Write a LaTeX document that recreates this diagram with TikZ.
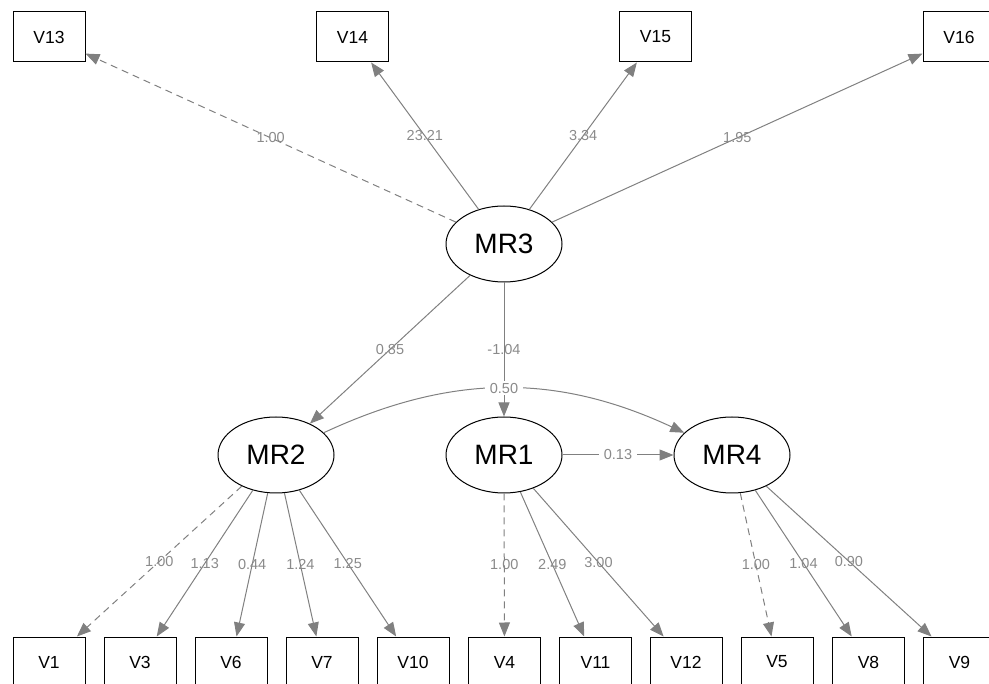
\documentclass[tikz,border=0pt]{standalone}
\usepackage{fontspec}
\setmainfont{Liberation Sans}
\usetikzlibrary{arrows.meta,shapes.geometric}
\definecolor{edgec}{HTML}{808080}
\definecolor{labc}{HTML}{8A8A8A}
\begin{document}
\begin{tikzpicture}[x=1pt,y=-1pt,
 obs/.style={draw=black,line width=1pt,minimum width=72pt,minimum height=50pt,inner sep=0pt,font=\fontsize{17.5}{17.5}\selectfont},
 lat/.style={ellipse,draw=black,line width=1pt,minimum width=116pt,minimum height=76pt,inner sep=0pt,font=\fontsize{28}{28}\selectfont},
 ed/.style={draw=edgec,line width=1pt,-{Triangle[length=14pt,width=11pt]}},
 fixd/.style={ed,dash pattern=on 7pt off 5pt},
 lbl/.style={text=labc,font=\fontsize{14.5}{14.5}\selectfont,inner sep=1pt},
 lblbg/.style={lbl,fill=white,inner xsep=5pt,inner ysep=2pt}]
\useasboundingbox (0,0) rectangle (989,684);
\clip (0,0) rectangle (989,684);
% observed top
\node[obs] (V13) at (49,37) {V13};
\node[obs] (V14) at (352.5,37) {V14};
\node[obs] (V15) at (655.5,37) {V15};
\node[obs] (V16) at (959,37) {V16};
% observed bottom
\node[obs] (V1) at (49,662) {V1};
\node[obs] (V3) at (140,662) {V3};
\node[obs] (V6) at (231,662) {V6};
\node[obs] (V7) at (322,662) {V7};
\node[obs] (V10) at (413,662) {V10};
\node[obs] (V4) at (504.5,662) {V4};
\node[obs] (V11) at (595.5,662) {V11};
\node[obs] (V12) at (686,662) {V12};
\node[obs] (V5) at (777,662) {V5};
\node[obs] (V8) at (868.5,662) {V8};
\node[obs] (V9) at (959.5,662) {V9};
% latent
\node[lat] (MR3) at (504,244) {MR3};
\node[lat] (MR2) at (276,455) {MR2};
\node[lat] (MR1) at (504,455) {MR1};
\node[lat] (MR4) at (732,455) {MR4};
% MR3 loadings
\draw[fixd] (MR3) -- node[lbl]{1.00} (V13);
\draw[ed] (MR3) -- node[lbl]{23.21} (V14);
\draw[ed] (MR3) -- node[lbl]{3.34} (V15);
\draw[ed] (MR3) -- node[lbl]{1.95} (V16);
% structural
\draw[ed] (MR3) -- node[lbl]{0.85} (MR2);
\draw[ed] (MR3) -- node[lbl]{-1.04} (MR1);
\draw[ed] (MR2) to[bend left=25] node[lblbg]{0.50} (MR4);
\draw[ed] (MR1) -- node[lblbg]{0.13} (MR4);
% MR2 loadings
\draw[fixd] (MR2) -- node[lbl]{1.00} (V1);
\draw[ed] (MR2) -- node[lbl]{1.13} (V3);
\draw[ed] (MR2) -- node[lbl]{0.44} (V6);
\draw[ed] (MR2) -- node[lbl]{1.24} (V7);
\draw[ed] (MR2) -- node[lbl]{1.25} (V10);
% MR1 loadings
\draw[fixd] (MR1) -- node[lbl]{1.00} (V4);
\draw[ed] (MR1) -- node[lbl]{2.49} (V11);
\draw[ed] (MR1) -- node[lbl]{3.00} (V12);
% MR4 loadings
\draw[fixd] (MR4) -- node[lbl]{1.00} (V5);
\draw[ed] (MR4) -- node[lbl]{1.04} (V8);
\draw[ed] (MR4) -- node[lbl]{0.90} (V9);
\end{tikzpicture}
\end{document}
